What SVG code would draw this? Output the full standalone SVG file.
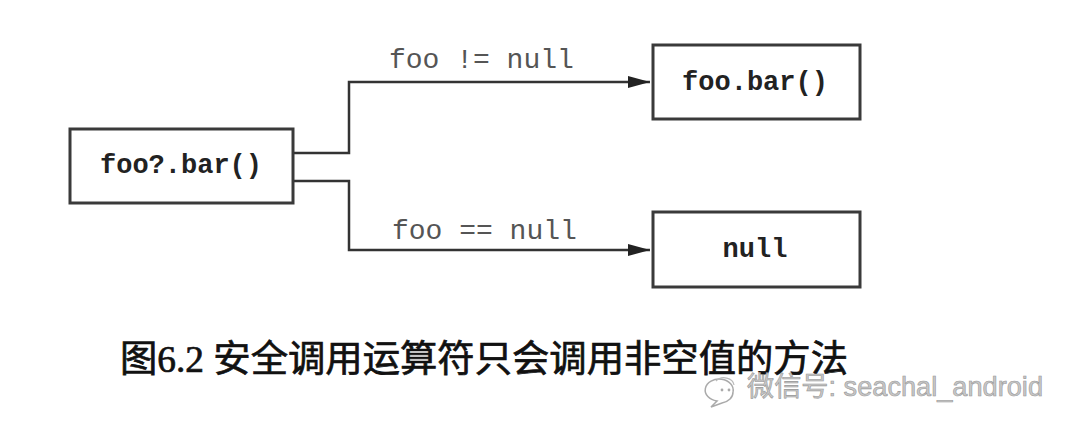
<svg xmlns="http://www.w3.org/2000/svg" width="1080" height="436" viewBox="0 0 1080 436">
<style>
.box{fill:#fff;stroke:#3a3a3a;stroke-width:3}
.node{font-family:"Liberation Mono",monospace;font-weight:bold;font-size:27px;fill:#222}
.lbl{font-family:"Liberation Mono",monospace;font-size:28px;fill:#555}
.edge{fill:none;stroke:#333;stroke-width:2.5}
.cap{font-family:"Liberation Serif","Noto Sans CJK SC",serif;font-size:37px;fill:#111;stroke:#111;stroke-width:0.7}
.wm{font-family:"Liberation Sans","Noto Sans CJK SC",sans-serif;font-size:27px;fill:#c8c8c8;stroke:#999;stroke-width:0.6}
</style>
<defs>
<marker id="arr" viewBox="0 0 22 12" refX="22" refY="6" markerWidth="22" markerHeight="12" markerUnits="userSpaceOnUse" orient="auto">
<path d="M0,0 L22,6 L0,12 Z" fill="#222"/>
</marker>
</defs>
<rect width="1080" height="436" fill="#fff"/>
<g id="connectors">
<path class="edge" d="M293,153 H349 V82 H650" marker-end="url(#arr)"/>
<path class="edge" d="M293,181 H349 V250 H650" marker-end="url(#arr)"/>
<text class="lbl" x="389" y="68">foo != null</text>
<text class="lbl" x="392" y="239">foo == null</text>
</g>
<g id="source">
<rect class="box" x="70" y="129" width="223" height="74"/>
<text class="node" x="181" y="173" text-anchor="middle">foo?.bar()</text>
</g>
<g id="notnull">
<rect class="box" x="653" y="45" width="207" height="74"/>
<text class="node" x="755" y="90" text-anchor="middle">foo.bar()</text>
</g>
<g id="isnull">
<rect class="box" x="653" y="212" width="207" height="75"/>
<text class="node" x="755" y="257" text-anchor="middle">null</text>
</g>
<g id="caption">
<text class="cap" x="120" y="372" textLength="728" lengthAdjust="spacingAndGlyphs">图6.2 安全调用运算符只会调用非空值的方法</text>
</g>
<g id="watermark">
<path d="M733,392 A14,11 0 1 0 717,401 L711,407 L722,403 A14,11 0 0 0 733,392" fill="none" stroke="#aaa" stroke-width="1.5"/>
<path d="M716,381 A10,8 0 0 1 734,385" fill="none" stroke="#bbb" stroke-width="1.2"/>
<circle cx="722" cy="390" r="1.4" fill="#aaa"/>
<circle cx="729" cy="390" r="1.4" fill="#aaa"/>
<text class="wm" x="747" y="396" textLength="296" lengthAdjust="spacingAndGlyphs">微信号: seachal_android</text>
</g>
</svg>
